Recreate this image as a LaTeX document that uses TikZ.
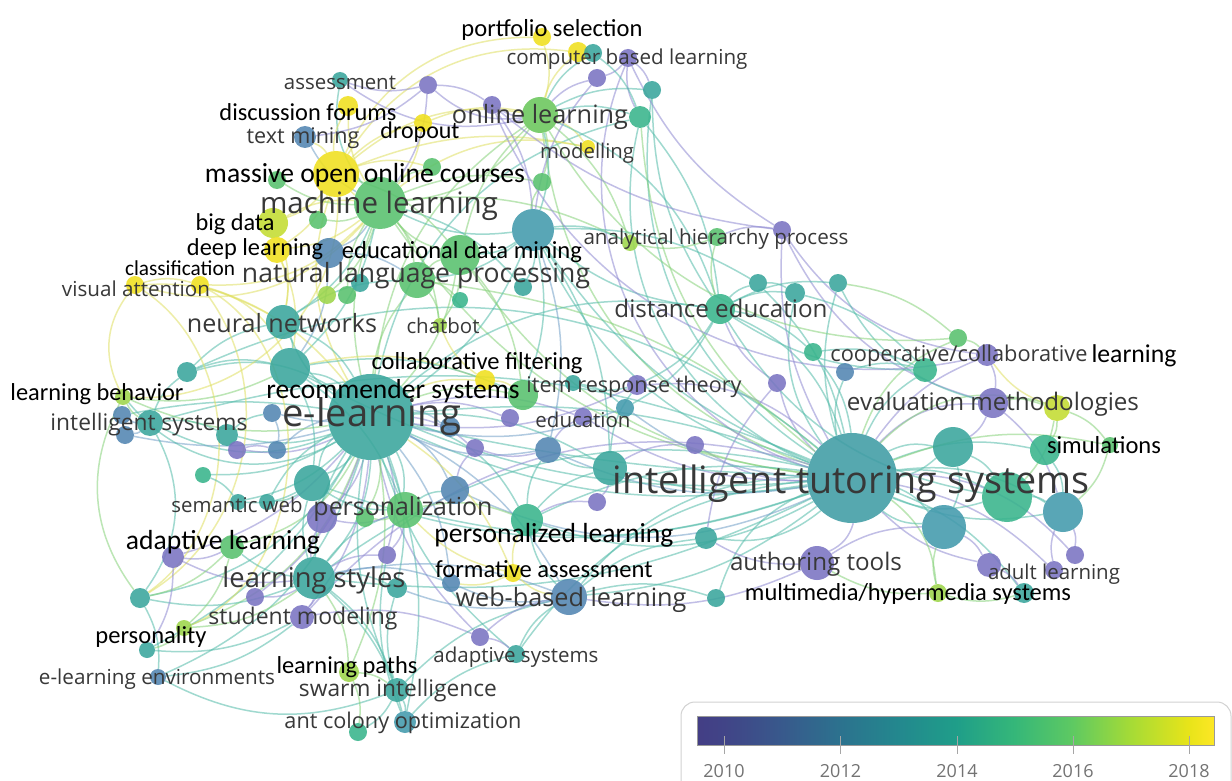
\documentclass[tikz,border=0pt]{standalone}
\usepackage{fontspec}
\usepackage{graphicx}
\newfontfamily\osans{Open Sans}
\newfontfamily\carl{Carlito}
\pgfdeclarelayer{bg}
\pgfsetlayers{bg,main}
\definecolor{cP}{HTML}{7A74C2}
\definecolor{cB}{HTML}{5386B2}
\definecolor{cTB}{HTML}{439AAD}
\definecolor{cT}{HTML}{3AA69C}
\definecolor{cTG}{HTML}{38B48C}
\definecolor{cG}{HTML}{58C16E}
\definecolor{cOL}{HTML}{6AC75C}
\definecolor{cL}{HTML}{9ED64A}
\definecolor{cYG}{HTML}{C3DC32}
\definecolor{cY}{HTML}{F0E01E}
\definecolor{cITS}{HTML}{3F9CA4}
\definecolor{eC}{HTML}{52BBA9}
\definecolor{eG}{HTML}{86D27A}
\definecolor{eP}{HTML}{8F8AD2}
\definecolor{eY}{HTML}{E0E062}
\definecolor{eB}{HTML}{72A0C8}
\definecolor{labgrey}{HTML}{383838}
\definecolor{v0}{HTML}{433E85}
\definecolor{v1}{HTML}{414487}
\definecolor{v2}{HTML}{38598C}
\definecolor{v3}{HTML}{2C728E}
\definecolor{v4}{HTML}{23888E}
\definecolor{v5}{HTML}{1F9E89}
\definecolor{v6}{HTML}{35B779}
\definecolor{v7}{HTML}{5EC962}
\definecolor{v8}{HTML}{A5DB36}
\definecolor{v9}{HTML}{E8E419}
\definecolor{v10}{HTML}{FDE725}
\pgfdeclarehorizontalshading{viridis}{100bp}{color(0bp)=(v0); color(25bp)=(v0); color(27.6bp)=(v1); color(33.2bp)=(v2); color(38.85bp)=(v3); color(44.5bp)=(v4); color(50.1bp)=(v5); color(55.7bp)=(v6); color(61.3bp)=(v7); color(66.9bp)=(v8); color(72.55bp)=(v9); color(75bp)=(v10); color(100bp)=(v10)}
\newcommand{\lbw}[2]{\resizebox{#1pt}{!}{#2}}
\tikzset{
  bub/.style 2 args={circle, inner sep=0pt, minimum size=2*#1, fill=#2, fill opacity=0.88, draw=none},
  gl/.style={font=\osans, text=labgrey, inner sep=0pt, yshift=-2pt},
  bl/.style={font=\carl, text=black, inner sep=0pt, yshift=-2pt},
  link/.style={line width=1.5pt, draw opacity=0.55},
  tick/.style={draw=gray!70, line width=1pt},
  yearlab/.style={font=\osans\fontsize{18}{20}\selectfont, text=gray!90!black, inner sep=0pt}
}
\begin{document}
\begin{tikzpicture}[x=1pt,y=-1pt]
\useasboundingbox (0,0) rectangle (1232,781);
% ---------- nodes (circles)
\node[bub={9}{cY}] (nps) at (542,37) {};
\node[bub={10}{cY}] (ncb1) at (578,52) {};
\node[bub={9}{cT}] (ncb2) at (593,53) {};
\node[bub={9}{cP}] (ncb3) at (628,58) {};
\node[bub={9}{cP}] (ncb4) at (597,78) {};
\node[bub={9}{cT}] (nt1) at (652,90) {};
\node[bub={11}{cTG}] (nt2) at (640,117) {};
\node[bub={8}{cT}] (nas) at (340,80) {};
\node[bub={9}{cP}] (np1) at (428,85) {};
\node[bub={10}{cY}] (ndf) at (348,106) {};
\node[bub={9}{cP}] (np2) at (492,105) {};
\node[bub={9}{cY}] (ndo) at (423,123) {};
\node[bub={11}{cB}] (ntm) at (305,137) {};
\node[bub={18}{cOL}] (nol) at (540,115) {};
\node[bub={7}{cY}] (nmo) at (588,147) {};
\node[bub={9}{cG}] (ng1) at (432,167) {};
\node[bub={9}{cG}] (ng2) at (542,182) {};
\node[bub={9}{cG}] (ng3) at (277,180) {};
\node[bub={23}{cY}] (nmooc) at (336,174) {};
\node[bub={26}{cG}] (nml) at (380,203) {};
\node[bub={9}{cG}] (ng4) at (318,220) {};
\node[bub={15}{cYG}] (nbd) at (273,223) {};
\node[bub={13}{cY}] (ndl) at (277,250) {};
\node[bub={15}{cB}] (nb1) at (329,253) {};
\node[bub={9}{cY}] (ncl) at (200,285) {};
\node[bub={9}{cY}] (nva) at (135,285) {};
\node[bub={21}{cTB}] (nhub) at (533,230) {};
\node[bub={20}{cG}] (nedm) at (460,255) {};
\node[bub={8}{cL}] (nahp) at (630,243) {};
\node[bub={9}{cG}] (nt3) at (717,237) {};
\node[bub={9}{cP}] (np3) at (782,230) {};
\node[bub={18}{cG}] (nnlp) at (417,280) {};
\node[bub={9}{cT}] (nt4) at (360,283) {};
\node[bub={9}{cL}] (ng6) at (327,295) {};
\node[bub={9}{cG}] (ng7) at (347,295) {};
\node[bub={9}{cT}] (nt5) at (523,287) {};
\node[bub={8}{cTG}] (ng5) at (460,300) {};
\node[bub={7}{cL}] (ncb) at (440,325) {};
\node[bub={9}{cT}] (nt6) at (758,283) {};
\node[bub={10}{cT}] (nt7) at (795,293) {};
\node[bub={9}{cT}] (nt8) at (838,283) {};
\node[bub={15}{cTG}] (nde) at (720,309) {};
\node[bub={17}{cT}] (nnn) at (283,322) {};
\node[bub={20}{cT}] (nrs) at (290,368) {};
\node[bub={10}{cT}] (nt9) at (187,372) {};
\node[bub={8}{cL}] (nlb) at (123,397) {};
\node[bub={9}{cB}] (nisb1) at (122,415) {};
\node[bub={9}{cB}] (nisb2) at (125,435) {};
\node[bub={13}{cT}] (nis) at (150,423) {};
\node[bub={11}{cT}] (nt10) at (227,435) {};
\node[bub={9}{cB}] (nb4) at (272,413) {};
\node[bub={9}{cP}] (np5) at (237,450) {};
\node[bub={9}{cB}] (nb5) at (277,450) {};
\node[bub={8}{cTG}] (ntg1) at (203,475) {};
\node[bub={8}{cT}] (nsw1) at (238,502) {};
\node[bub={8}{cT}] (nsw2) at (267,502) {};
\node[bub={18}{cT}] (nt11) at (312,483) {};
\node[bub={15}{cP}] (np6) at (322,518) {};
\node[bub={9}{cG}] (ng9) at (365,518) {};
\node[bub={43}{cT}] (nel) at (371,417) {};
\node[bub={10}{cB}] (nb7) at (450,427) {};
\node[bub={10}{cY}] (ncf) at (485,380) {};
\node[bub={15}{cG}] (ng8) at (523,395) {};
\node[bub={8}{cT}] (nt12) at (573,383) {};
\node[bub={10}{cP}] (nirt) at (637,385) {};
\node[bub={9}{cP}] (np13) at (510,418) {};
\node[bub={9}{cP}] (nedu) at (583,417) {};
\node[bub={9}{cTB}] (nb3) at (625,408) {};
\node[bub={9}{cP}] (np4) at (777,383) {};
\node[bub={9}{cP}] (np14) at (475,448) {};
\node[bub={13}{cB}] (nb6) at (548,450) {};
\node[bub={17}{cT}] (nt19) at (610,468) {};
\node[bub={9}{cP}] (np12) at (695,445) {};
\node[bub={14}{cB}] (nb8) at (455,490) {};
\node[bub={9}{cP}] (np15) at (597,502) {};
\node[bub={18}{cG}] (npers) at (405,510) {};
\node[bub={16}{cTG}] (npl) at (527,520) {};
\node[bub={11}{cT}] (nt20) at (706,538) {};
\node[bub={12}{cG}] (nal) at (232,547) {};
\node[bub={11}{cP}] (np7) at (173,557) {};
\node[bub={9}{cP}] (np8) at (387,555) {};
\node[bub={9}{cY}] (nfa) at (513,573) {};
\node[bub={9}{cB}] (nb9) at (451,583) {};
\node[bub={10}{cT}] (nt21) at (397,588) {};
\node[bub={21}{cT}] (nls) at (314,578) {};
\node[bub={18}{cB}] (nwbl) at (569,597) {};
\node[bub={9}{cT}] (nt22) at (716,598) {};
\node[bub={10}{cT}] (nt23) at (140,598) {};
\node[bub={9}{cP}] (np16) at (255,597) {};
\node[bub={12}{cP}] (nsm) at (302,617) {};
\node[bub={8}{cL}] (nly) at (184,628) {};
\node[bub={8}{cT}] (nt24) at (147,650) {};
\node[bub={8}{cB}] (nele) at (158,677) {};
\node[bub={9}{cP}] (np17) at (480,637) {};
\node[bub={9}{cT}] (nasy) at (516,654) {};
\node[bub={10}{cL}] (nlp) at (349,672) {};
\node[bub={12}{cT}] (nsi) at (397,690) {};
\node[bub={11}{cTB}] (naco) at (405,722) {};
\node[bub={9}{cTG}] (ng10) at (358,732) {};
\node[bub={9}{cG}] (nccl1) at (958,338) {};
\node[bub={11}{cP}] (nccl2) at (987,355) {};
\node[bub={12}{cTG}] (nccl3) at (925,370) {};
\node[bub={9}{cB}] (nb2) at (845,372) {};
\node[bub={9}{cTG}] (nt13) at (813,352) {};
\node[bub={15}{cP}] (nem) at (993,403) {};
\node[bub={13}{cYG}] (nemy) at (1057,408) {};
\node[bub={20}{cT}] (nt17) at (953,447) {};
\node[bub={15}{cTG}] (nt18) at (1045,450) {};
\node[bub={8}{cG}] (nsim) at (1110,445) {};
\node[bub={45}{cITS}] (nits) at (852,478) {};
\node[bub={25}{cTG}] (nt14) at (1007,497) {};
\node[bub={20}{cTB}] (nt15) at (1063,512) {};
\node[bub={22}{cTB}] (nt16) at (944,527) {};
\node[bub={17}{cP}] (nat) at (817,563) {};
\node[bub={12}{cP}] (np9) at (989,565) {};
\node[bub={9}{cP}] (np10) at (1054,570) {};
\node[bub={9}{cP}] (np11) at (1075,555) {};
\node[bub={10}{cT}] (nt25) at (1024,593) {};
\node[bub={9}{cL}] (nmh) at (938,593) {};
% ---------- connectors
\begin{pgfonlayer}{bg}
\fill[white] (0,0) rectangle (1232,781);
\foreach \a/\b/\s/\k [evaluate=\k as \kk using 1.6*\k] in {
nits/nt14/eC/10, nits/nt15/eC/-10, nits/nt16/eC/10, nits/nt17/eC/-10, nits/nt18/eC/10,
nits/nem/eP/15, nits/nemy/eG/20, nits/nsim/eG/10, nits/nccl1/eG/15, nits/nccl2/eP/10,
nits/nccl3/eC/10, nits/nb2/eC/10, nits/nt13/eC/-10, nits/nat/eP/15, nits/np9/eP/-10,
nits/np10/eP/10, nits/np11/eP/15, nits/nt25/eC/10, nits/nmh/eG/15, nits/nde/eC/-15,
nits/nt8/eC/10, nits/nt7/eC/15, nits/nt6/eC/-10, nits/np3/eP/10, nits/np4/eP/10,
nits/nel/eC/10, nits/nel/eC/-8, nits/nwbl/eC/-15, nits/npl/eC/15, nits/nls/eC/-15,
nits/npers/eC/10, nits/nt19/eC/8, nits/np12/eP/10, nits/nt20/eC/15, nits/nt22/eC/-15,
nits/nirt/eP/-15, nits/nb6/eB/10, nits/nhub/eC/15, nits/nol/eG/20, nits/nml/eG/15,
nits/nt2/eC/25, nits/nedm/eG/15, nits/nnlp/eG/-10, nits/nrs/eC/10, nits/nt11/eC/12,
nits/nb3/eB/10, nits/nedu/eP/10, nits/nb8/eB/15, nits/nsm/eP/-20, nits/nasy/eC/-15,
nits/nt1/eC/20, nits/ncb3/eP/30, nits/nis/eC/-12, nits/nt9/eC/-20,
nits/nt14/eC/-12, nits/nt16/eC/-12, nits/nt15/eC/12, nits/nt17/eC/12, nits/nwbl/eC/10,
nits/npl/eC/-10, nits/nls/eC/10, nits/nel/eC/3,
nel/nnn/eC/10, nel/nrs/eC/-10, nel/nml/eG/10, nel/nnlp/eG/10, nel/nedm/eG/-10,
nel/nmooc/eY/15, nel/npers/eC/10, nel/nls/eC/-10, nel/npl/eC/15, nel/nwbl/eB/10,
nel/nis/eC/15, nel/nt10/eC/10, nel/nb4/eB/5, nel/np5/eP/10, nel/nb5/eB/-10,
nel/ntg1/eC/10, nel/nsw1/eC/10, nel/nsw2/eC/-10, nel/nt11/eC/10, nel/np6/eP/10,
nel/ng9/eG/10, nel/nal/eG/15, nel/np7/eP/10, nel/np8/eP/10, nel/nt23/eC/15,
nel/nsm/eP/10, nel/np17/eP/-10, nel/nasy/eC/-10, nel/nlp/eG/10, nel/nsi/eC/-10,
nel/naco/eC/10, nel/nlb/eG/10, nel/nt9/eC/-15, nel/ncf/eY/10, nel/ng8/eG/10,
nel/nirt/eP/-10, nel/nedu/eP/10, nel/nb3/eB/-10, nel/nde/eC/15, nel/nhub/eC/-10,
nel/nb7/eB/10, nel/np13/eP/10, nel/np14/eP/10, nel/nb8/eB/10, nel/nt19/eC/10,
nel/nb6/eB/-10, nel/nfa/eY/10, nel/nb9/eB/10, nel/nt21/eC/10, nel/nol/eG/15,
nel/nt2/eC/20, nel/nele/eC/15, nel/nly/eG/15, nel/np16/eP/10, nel/nt24/eC/10,
nel/nisb1/eC/-6, nel/nisb2/eB/8, nel/nls/eC/12, nel/nnn/eC/-12, nel/nt11/eC/-12,
nml/nmooc/eY/10, nml/nnlp/eG/10, nml/nedm/eG/-10, nml/ndl/eY/10, nml/nbd/eY/-10,
nml/nol/eG/-15, nml/ntm/eB/10, nml/ndf/eY/10, nml/ndo/eY/-10, nml/nas/eC/15,
nml/ng1/eG/10, nml/ng2/eG/10, nml/ng3/eG/10, nml/ng4/eG/10, nml/nb1/eB/10,
nml/ncl/eY/15, nml/nva/eY/20, nml/nhub/eC/-10, nml/nnn/eC/10, nml/ncb/eG/10,
nml/ng6/eG/10, nml/ng7/eG/-10, nml/nmo/eY/15, nml/nahp/eG/10, nml/nrs/eC/10,
nml/np1/eP/-10, nml/nt5/eC/10,
nmooc/ndf/eY/10, nmooc/ndo/eY/10, nmooc/nol/eY/15, nmooc/ntm/eY/-10, nmooc/ng1/eY/10,
nmooc/nps/eY/20, nmooc/nmo/eY/10, nmooc/nbd/eY/10, nmooc/ndl/eY/10, nmooc/nlb/eY/30,
nmooc/nedm/eG/10, nmooc/ncb1/eY/20,
nol/ncb1/eY/10, nol/nps/eY/-10, nol/ncb2/eC/10, nol/ncb4/eP/10, nol/nt1/eC/10,
nol/nt2/eC/10, nol/np2/eP/10, nol/np1/eP/15, nol/nmo/eY/10, nol/ng2/eG/10,
nol/nhub/eC/10, nol/nedm/eG/-10, nol/nde/eC/15, nol/nahp/eG/10, nol/ndo/eY/-10,
nol/nas/eP/15,
ncb3/nt1/eP/10, ncb3/ncb4/eP/10, ncb3/nt2/eP/-10, ncb2/nt2/eC/10, nt2/nde/eC/10,
nt1/nde/eC/-10, np1/nas/eP/10, np1/ntm/eP/10, np1/np2/eP/10, np2/nhub/eP/10,
ncb4/nhub/eP/-10, np2/np3/eP/-10, np3/nccl2/eP/-15, np3/nem/eP/-15, ncb3/np3/eP/-10,
nhub/nedm/eC/10, nhub/nnlp/eC/10, nhub/nde/eC/-10, nhub/nt6/eC/10, nhub/nahp/eC/10,
nhub/nt5/eC/10, nhub/ng8/eC/10, nhub/nb6/eB/10, nhub/nt19/eC/10, nhub/ng2/eG/10,
nde/nt6/eC/10, nde/nt7/eC/10, nde/nt8/eC/10, nde/nt13/eC/10, nde/nccl3/eC/-10,
nde/nirt/eC/10, nde/nb3/eC/10, nde/nt3/eG/10, nt3/nahp/eG/10, nt3/np3/eP/10,
nt6/nt7/eC/10, nt8/nccl1/eG/10, nt13/nccl3/eC/10, nb2/nccl3/eC/10, nccl1/nccl2/eG/10,
nccl2/nem/eP/10, nccl2/nemy/eY/-10, nem/nemy/eG/10, nemy/nsim/eG/10, nemy/nt18/eG/10,
nemy/nt14/eG/10, nem/nt17/eP/10, nem/nt15/eP/10, nt17/nt14/eC/10, nt14/nt15/eC/10,
nt15/np11/eP/10, nt16/np9/eP/10, np9/nt25/eP/10, np10/nt15/eP/10, nmh/nt16/eG/10,
nmh/nat/eG/10, nmh/nt25/eG/-10, nat/nt16/eP/10, nat/nwbl/eP/10, nat/nt20/eP/10,
nsim/nt15/eG/10, nt18/nt15/eC/10, nt8/nem/eC/-15, nt7/nccl3/eC/10, nt17/nt16/eC/12,
nis/nisb1/eB/10, nis/nisb2/eB/10, nis/nlb/eG/10, nis/nt9/eC/10, nis/nt10/eC/10,
nis/nt23/eC/20, nt9/nnn/eC/10, nt9/nrs/eC/10, nlb/nrs/eG/-10, nlb/nt23/eG/-20,
nva/ncl/eY/10, nva/nlb/eY/-20, ncl/nrs/eY/15, ncl/nel/eY/10, nva/nnn/eY/10,
ncl/nt23/eY/30, ndl/nnn/eY/10, ndl/nrs/eY/10, nbd/nnn/eY/10, nb1/nnlp/eB/10,
nb1/nrs/eB/10, nnn/nnlp/eC/10, nnn/nrs/eC/10, nrs/nt11/eC/10, nrs/npers/eC/10,
nrs/ncf/eY/10, nrs/ng8/eC/10, nnlp/ncb/eG/10, nnlp/ng5/eG/10, nnlp/nedm/eG/10,
nedm/ncb/eG/10, nedm/ng8/eG/10, ncl/nly/eY/40, nva/nt23/eY/35, nlb/nel/eC/-25,
nls/nal/eC/10, nls/np7/eP/10, nls/nsm/eP/10, nls/np16/eP/10, nls/nt11/eC/10,
nls/np6/eP/10, nls/npers/eC/10, nls/nt23/eC/10, nls/nly/eG/10, nls/nlp/eG/10,
nls/nsi/eC/10, nls/naco/eC/10, nls/nt21/eC/10, nls/nwbl/eB/10, nls/nb9/eB/10,
nls/np8/eP/10, nsm/nele/eC/10, nsm/nt24/eC/10, nsm/np17/eP/10, nal/np7/eP/10,
nal/nt23/eG/10, nal/nly/eG/10, np7/nt24/eP/10, nt23/nele/eC/10, nly/nt24/eG/10,
nele/nsi/eC/-15, nlp/nsi/eG/10, nsi/naco/eC/10, nsi/ng10/eC/10, nlp/ng10/eG/10,
naco/nasy/eC/10, nsi/nwbl/eC/10, nsi/nt21/eC/10, naco/np8/eC/10, np17/nasy/eP/10,
np17/nwbl/eP/10, nasy/nwbl/eC/10, nwbl/nfa/eY/10, nwbl/npl/eC/10, nwbl/nb9/eB/10,
nwbl/nt21/eB/10, nwbl/nt22/eC/10, nwbl/nt20/eC/10, nfa/npl/eY/10, nfa/nb9/eY/10,
nfa/npers/eY/10, npers/npl/eG/10, npers/nb8/eC/10, npers/ng9/eG/10, npers/nt11/eC/10,
npers/np6/eP/10, npers/np8/eP/10, npl/nt19/eC/10, npl/nb6/eC/10, npl/np15/eP/10,
nt19/nb6/eC/10, nt19/np15/eP/10, nt19/np12/eP/10, nt19/nirt/eC/10, nb6/np14/eP/10,
nb6/nedu/eP/10, nb8/np14/eP/10, nt11/nsw2/eC/10, nt11/nsw1/eC/10, ntg1/nsw1/eC/10,
np5/nb5/eP/10, np5/nt10/eP/10, nb4/nb5/eB/10, nt10/nb4/eC/10, nirt/nt12/eC/10,
ncf/ng8/eY/10, ncf/ncb/eY/10, nt12/nb3/eC/10, np4/nt20/eP/-10, np4/nde/eP/10,
nt2/nits/eG/-15, nol/nccl1/eG/-20, np2/nccl2/eP/-25, nhub/nits/eC/-10, nde/nt14/eC/-15}
  \draw[link, draw=\s] (\a) to[bend left=\kk] (\b);
\end{pgfonlayer}
% ---------- labels (grey, Open Sans)
\node[gl] (L1) at (851,482) {\lbw{477}{intelligent tutoring systems}};
\node[gl] (L2) at (372,415) {\lbw{179}{e-learning}};
\node[gl] (L3) at (379,204) {\lbw{238}{machine learning}};
\node[gl] (L4) at (416,274) {\lbw{348}{natural language processing}};
\node[gl] (L5) at (540,115) {\lbw{176}{online learning}};
\node[gl] (L6) at (282,321) {\lbw{190}{neural networks}};
\node[gl] (L7) at (721,306) {\lbw{213}{distance education}};
\node[gl] (L8) at (993,402) {\lbw{292}{evaluation methodologies}};
\node[gl] (L9) at (314,578) {\lbw{183}{learning styles}};
\node[gl] (L10) at (403,507) {\lbw{179}{personalization}};
\node[gl] (L11) at (571,598) {\lbw{231}{web-based learning}};
\node[gl] (L12) at (816,562) {\lbw{172}{authoring tools}};
\node[gl] (L13) at (149,423) {\lbw{197}{intelligent systems}};
\node[gl] (L14) at (634,385) {\lbw{215}{item response theory}};
\node[gl] (L15) at (959,354) {\lbw{257}{cooperative/collaborative}};
\node[gl] (L16) at (303,617) {\lbw{189}{student modeling}};
\node[gl] (L17) at (398,689) {\lbw{198}{swarm intelligence}};
\node[gl] (L18) at (403,721) {\lbw{237}{ant colony optimization}};
\node[gl] (L19) at (157,677) {\lbw{236}{e-learning environments}};
\node[gl] (L20) at (516,655) {\lbw{165}{adaptive systems}};
\node[gl] (L21) at (1054,572) {\lbw{132}{adult learning}};
\node[gl] (L22) at (237,503) {\lbw{131}{semantic web}};
\node[gl] (L23) at (583,418) {\lbw{95}{education}};
\node[gl] (L24) at (443,324) {\lbw{73}{chatbot}};
\node[gl] (L25) at (587,151) {\lbw{94}{modelling}};
\node[gl] (L26) at (303,136) {\lbw{113}{text mining}};
\node[gl] (L27) at (340,81) {\lbw{112}{assessment}};
\node[gl] (L28) at (627,57) {\lbw{241}{computer based learning}};
\node[gl] (L29) at (136,287) {\lbw{148}{visual attention}};
\node[gl] (L30) at (716,237) {\lbw{265}{analytical hierarchy process}};
% ---------- labels (black, Carlito)
\node[bl] (B1) at (552,28) {\lbw{181}{portfolio selection}};
\node[bl] (B2) at (308,110) {\lbw{177}{discussion forums}};
\node[bl] (B3) at (420,130) {\lbw{79}{dropout}};
\node[bl] (B4) at (365,173) {\lbw{320}{massive open online courses}};
\node[bl] (B5) at (235,222) {\lbw{79}{big data}};
\node[bl] (B6) at (255,247) {\lbw{136}{deep learning}};
\node[bl] (B7) at (180,266) {\lbw{110}{classification}};
\node[bl] (B8) at (462,250) {\lbw{240}{educational data mining}};
\node[bl] (B9) at (477,361) {\lbw{211}{collaborative filtering}};
\node[bl] (B10) at (393,389) {\lbw{253}{recommender systems}};
\node[bl] (B11) at (97,392) {\lbw{173}{learning behavior}};
\node[bl] (B12) at (1134,354) {\lbw{85}{learning}};
\node[bl] (B13) at (1104,443) {\lbw{114}{simulations}};
\node[bl] (B14) at (223,540) {\lbw{194}{adaptive learning}};
\node[bl] (B15) at (554,533) {\lbw{239}{personalized learning}};
\node[bl] (B16) at (544,567) {\lbw{217}{formative assessment}};
\node[bl] (B17) at (908,592) {\lbw{326}{multimedia/hypermedia systems}};
\node[bl] (B18) at (151,635) {\lbw{111}{personality}};
\node[bl] (B19) at (347,665) {\lbw{141}{learning paths}};
% ---------- legend
\begin{scope}
\clip (0,0) rectangle (1232,781);
\draw[gray!35, line width=1pt, rounded corners=14pt] (681,702) rectangle (1231,800);
\end{scope}
\shade[shading=viridis] (697,716) rectangle (1214,745);
\draw[gray!80, line width=1pt] (697,716) rectangle (1214,745);
\foreach \x in {724, 840.5, 957, 1073, 1189}
  \draw[tick] (\x,736) -- (\x,754);
\node[yearlab] (Y10) at (724,771) {2010};
\node[yearlab] (Y12) at (840.5,771) {2012};
\node[yearlab] (Y14) at (957,771) {2014};
\node[yearlab] (Y16) at (1073,771) {2016};
\node[yearlab] (Y18) at (1189,771) {2018};
\end{tikzpicture}
\end{document}
